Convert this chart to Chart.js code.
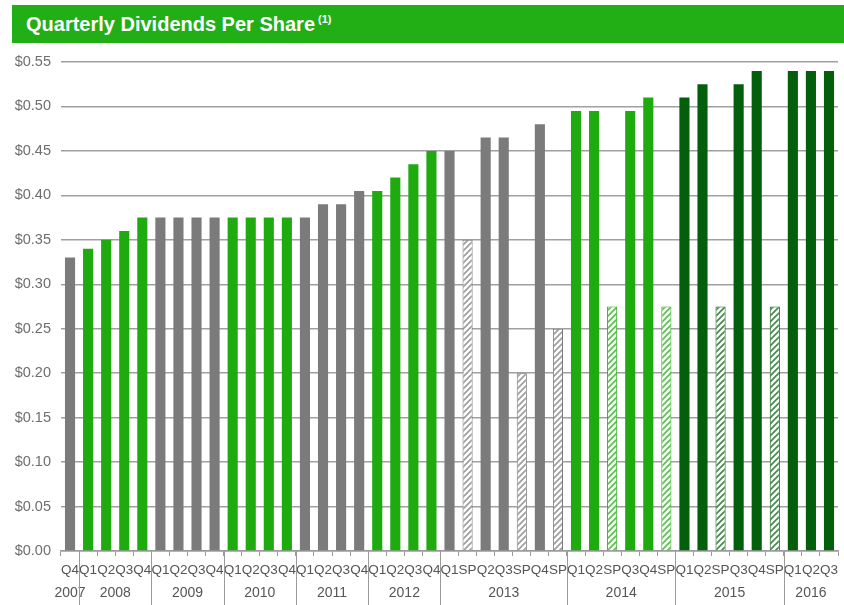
<!DOCTYPE html>
<html>
<head>
<meta charset="utf-8">
<script src="https://cdn.jsdelivr.net/npm/chart.js@4.4.1/dist/chart.umd.min.js"></script>
<style>
  html, body { margin: 0; padding: 0; background: #ffffff; }
  #wrap { position: relative; width: 844px; height: 605px; overflow: hidden; }
  #banner {
    position: absolute; left: 12px; top: 5px; width: 832px; height: 38px;
    background: #22ae15; color: #ffffff;
    font-family: "Liberation Sans", Arial, sans-serif; font-weight: bold; font-size: 20px;
    line-height: 38px; box-sizing: border-box; padding-left: 14px;
  }
  #banner sup { font-size: 11px; vertical-align: 0; position: relative; top: -8px; margin-left: 3px; }
  #chartBox { position: absolute; left: 0; top: 0; width: 844px; height: 605px; }
</style>
</head>
<body>
<div id="wrap">
  <div id="chartBox"><canvas id="c" width="844" height="605"></canvas></div>
  <div id="banner">Quarterly Dividends Per Share<sup>(1)</sup></div>
</div>
<script>
// ---- Data ----
const quarterLabels = [
  'Q4',
  'Q1','Q2','Q3','Q4',
  'Q1','Q2','Q3','Q4',
  'Q1','Q2','Q3','Q4',
  'Q1','Q2','Q3','Q4',
  'Q1','Q2','Q3','Q4',
  'Q1','SP','Q2','Q3','SP','Q4','SP',
  'Q1','Q2','SP','Q3','Q4','SP',
  'Q1','Q2','SP','Q3','Q4','SP',
  'Q1','Q2','Q3'
];
const quarterYears = [
  '2007',
  '2008','2008','2008','2008',
  '2009','2009','2009','2009',
  '2010','2010','2010','2010',
  '2011','2011','2011','2011',
  '2012','2012','2012','2012',
  '2013','2013','2013','2013','2013','2013','2013',
  '2014','2014','2014','2014','2014','2014',
  '2015','2015','2015','2015','2015','2015',
  '2016','2016','2016'
];
const dividends = [
  0.33,
  0.34, 0.35, 0.36, 0.375,
  0.375, 0.375, 0.375, 0.375,
  0.375, 0.375, 0.375, 0.375,
  0.375, 0.39, 0.39, 0.405,
  0.405, 0.42, 0.435, 0.45,
  0.45, 0.35, 0.465, 0.465, 0.20, 0.48, 0.25,
  0.495, 0.495, 0.275, 0.495, 0.51, 0.275,
  0.51, 0.525, 0.275, 0.525, 0.54, 0.275,
  0.54, 0.54, 0.54
];
const yTickValues = [0, 0.05, 0.10, 0.15, 0.20, 0.25, 0.30, 0.35, 0.40, 0.45, 0.50, 0.55];

// ---- Styles ----
const GRAY = '#7b7b7b', GREEN = '#1faa10', DARK = '#035f0b';
const yearColor = {
  '2007': GRAY, '2008': GREEN, '2009': GRAY, '2010': GREEN, '2011': GRAY,
  '2012': GREEN, '2013': GRAY, '2014': GREEN, '2015': DARK, '2016': DARK
};
function hatch(color) {
  const p = document.createElement('canvas');
  p.width = 6; p.height = 6;
  const g = p.getContext('2d');
  g.fillStyle = '#ffffff'; g.fillRect(0, 0, 6, 6);
  g.globalAlpha = 0.75;
  g.strokeStyle = color; g.lineWidth = 1.6;
  g.beginPath();
  g.moveTo(-1, 7); g.lineTo(7, -1);
  g.moveTo(-4, 4); g.lineTo(4, -4);
  g.moveTo(2, 10); g.lineTo(10, 2);
  g.stroke();
  return g.createPattern(p, 'repeat');
}
const bgColors = quarterLabels.map((q, i) => q === 'SP' ? hatch(yearColor[quarterYears[i]]) : yearColor[quarterYears[i]]);
const bdColors = quarterLabels.map((q, i) => yearColor[quarterYears[i]]);
const bdWidths = quarterLabels.map(q => q === 'SP' ? 1 : 0);

const yearGroupsPlugin = {
  id: 'yearGroups',
  afterDraw(chart) {
    const xs = chart.scales.x;
    const ctx = chart.ctx;
    const step = xs.getPixelForValue(1) - xs.getPixelForValue(0);
    const top = chart.chartArea.bottom;
    const bottom = chart.height;
    const years = [...new Set(quarterYears)];
    ctx.save();
    ctx.font = '14px "Liberation Sans", Arial, sans-serif';
    ctx.fillStyle = '#555555';
    ctx.textAlign = 'center';
    ctx.textBaseline = 'middle';
    ctx.strokeStyle = '#9a9a9a';
    ctx.lineWidth = 1;
    years.forEach((yr, k) => {
      const first = quarterYears.indexOf(yr);
      const last = quarterYears.lastIndexOf(yr);
      const x0 = xs.getPixelForValue(first) - step / 2;
      const x1 = xs.getPixelForValue(last) + step / 2;
      ctx.fillText(yr, (x0 + x1) / 2, 593);
      if (k > 0) {
        const xl = Math.round(x0) + 0.5;
        ctx.beginPath(); ctx.moveTo(xl, top); ctx.lineTo(xl, bottom); ctx.stroke();
      }
    });
    ctx.restore();
  }
};

new Chart(document.getElementById('c'), {
  type: 'bar',
  data: {
    labels: quarterLabels,
    datasets: [{
      data: dividends,
      backgroundColor: bgColors,
      borderColor: bdColors,
      borderWidth: bdWidths,
      barPercentage: 0.56,
      categoryPercentage: 1.0
    }]
  },
  options: {
    responsive: false,
    animation: false,
    devicePixelRatio: 1,
    layout: { padding: { top: 62, right: 0, left: 0, bottom: 0 } },
    plugins: { legend: { display: false }, tooltip: { enabled: false }, title: { display: false } },
    scales: {
      x: {
        type: 'category',
        offset: true,
        grid: { display: true, drawOnChartArea: false, drawTicks: true, tickLength: 5, offset: true, color: '#9a9a9a' },
        border: { display: true, color: '#9a9a9a', width: 1.5 },
        ticks: {
          autoSkip: false, maxRotation: 0, minRotation: 0, padding: 6,
          color: '#555555', font: { family: '"Liberation Sans", Arial, sans-serif', size: 13.5 }
        },
        afterFit(scale) { scale.height = 54; }
      },
      y: {
        min: 0, max: 0.55,
        afterBuildTicks(scale) { scale.ticks = yTickValues.map(v => ({ value: v })); },
        grid: { color: '#a0a0a0', lineWidth: 1.5, drawTicks: false },
        border: { display: false },
        ticks: {
          padding: 10, color: '#6e6e6e',
          font: { family: '"Liberation Sans", Arial, sans-serif', size: 14.5 },
          callback: v => '$' + Number(v).toFixed(2)
        },
        afterFit(scale) { scale.width = 61; }
      }
    }
  },
  plugins: [yearGroupsPlugin]
});
</script>
</body>
</html>
